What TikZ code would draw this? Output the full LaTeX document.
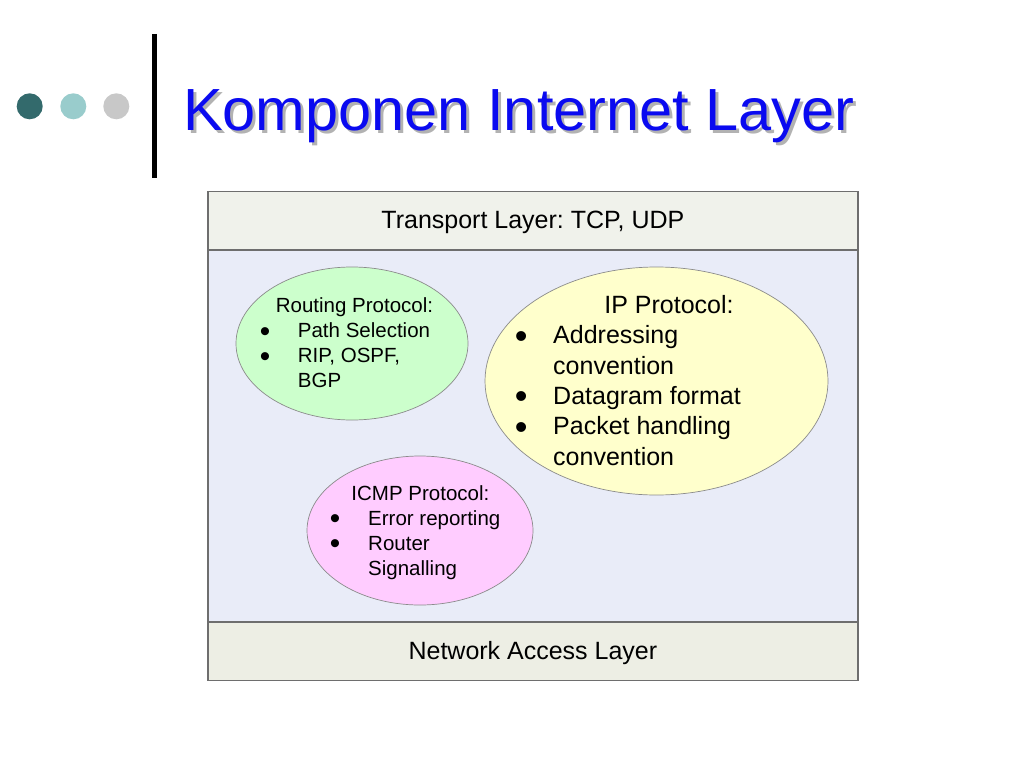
\documentclass[tikz,border=0pt]{standalone}
\usepackage{fontspec}
\setmainfont{Liberation Sans}
\usetikzlibrary{shapes.geometric,positioning}
\frenchspacing

\definecolor{dotdark}{HTML}{336A6C}
\definecolor{dotlight}{HTML}{99CCCC}
\definecolor{dotgrey}{HTML}{C8C8C8}
\definecolor{titleblue}{HTML}{0A0AF0}
\definecolor{bandtop}{HTML}{F0F2EB}
\definecolor{bandmid}{HTML}{E9ECF8}
\definecolor{bandbot}{HTML}{EDEEE4}
\definecolor{bordergrey}{HTML}{6E6E6E}
\definecolor{routefill}{HTML}{CCFFCC}
\definecolor{ipfill}{HTML}{FFFFCC}
\definecolor{icmpfill}{HTML}{FFCCFF}

\newcommand{\blt}{\hspace{-0.08em}\raisebox{-0.17em}[0pt][0pt]{\scalebox{1.45}{\textbullet}}}

\tikzset{
  band/.style={draw=bordergrey, line width=1.2pt, minimum width=650pt, anchor=north west,
    inner sep=0pt, text height=22pt, text depth=5.4pt, font=\fontsize{25}{30}\selectfont},
  proto/.style={ellipse, draw=bordergrey!80, line width=0.7pt, inner sep=0pt},
  dot/.style={circle, inner sep=0pt, minimum size=26pt},
  listtext/.style={inner sep=0pt, anchor=north west, align=left},
}

\begin{document}
\begin{tikzpicture}[x=1pt, y=-1pt]
\useasboundingbox (0,0) rectangle (1024,768);

% bullets and bar of the slide
\node[dot, fill=dotdark] (dot1) at (29.7,106.3) {};
\node[dot, fill=dotlight] (dot2) at (73.3,106.3) {};
\node[dot, fill=dotgrey] (dot3) at (116.3,106.3) {};
\draw[line width=5pt] (154,34) -- (154,178);

% title with its shadow
\node[anchor=base west, inner sep=0pt, font=\fontsize{59.5}{70}\selectfont, text=black!30] (titleShadow) at (186,133) {Komponen Internet Layer};
\node[anchor=base west, inner sep=0pt, font=\fontsize{59.5}{70}\selectfont, text=titleblue] (title) at (183,130) {Komponen Internet Layer};

% layers
\node[band, fill=bandmid, minimum height=372pt] (internet) at (207.3,249.3) {};
\node[band, fill=bandtop, minimum height=58.6pt] (transport) at (207.3,190.7) {Transport Layer: TCP, UDP};
\node[band, fill=bandbot, minimum height=58.7pt] (netaccess) at (207.3,621.3) {Network Access Layer};

% protocols
\node[proto, fill=routefill, minimum width=232pt, minimum height=153pt] (routing) at (352,343.5) {};
\node[proto, fill=ipfill, minimum width=343pt, minimum height=228pt] (ip) at (656.5,381) {};
\node[proto, fill=icmpfill, minimum width=226pt, minimum height=149pt] (icmp) at (420,530.5) {};

\node[anchor=base, inner sep=0pt, font=\fontsize{20.5}{25}\selectfont] (routingHead) at (354.5,312) {Routing Protocol:};
\node[listtext, font=\fontsize{20.5}{25}\selectfont] (routingList) at (261.4,320)
  {\begin{tabular}{@{}p{36.3pt}@{}l@{}}
   \blt & Path Selection\\
   \blt & RIP, OSPF,\\
        & BGP
   \end{tabular}};

\node[anchor=base, inner sep=0pt, font=\fontsize{25}{30.3}\selectfont] (ipHead) at (669,313) {IP Protocol:};
\node[listtext, font=\fontsize{25}{30.3}\selectfont] (ipList) at (516.6,322.5)
  {\begin{tabular}{@{}p{36.4pt}@{}l@{}}
   \blt & Addressing\\
        & convention\\
   \blt & Datagram format\\
   \blt & Packet handling\\
        & convention
   \end{tabular}};

\node[anchor=base, inner sep=0pt, font=\fontsize{20.5}{25}\selectfont] (icmpHead) at (420.4,500) {ICMP Protocol:};
\node[listtext, font=\fontsize{20.5}{25}\selectfont] (icmpList) at (331.4,507.5)
  {\begin{tabular}{@{}p{36.6pt}@{}l@{}}
   \blt & Error reporting\\
   \blt & Router\\
        & Signalling
   \end{tabular}};
\end{tikzpicture}
\end{document}
